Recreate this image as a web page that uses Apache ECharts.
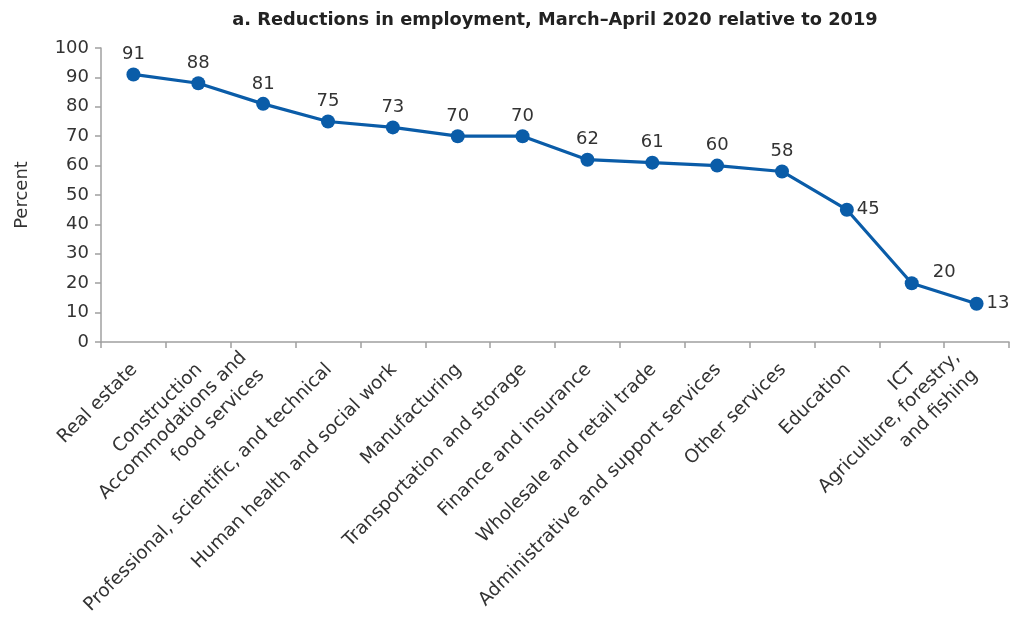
<!DOCTYPE html>
<html>
<head>
<meta charset="utf-8">
<script src="https://cdn.jsdelivr.net/npm/echarts@6/dist/echarts.min.js"></script>
<style>
  html, body { margin: 0; padding: 0; background: #fff; }
  #chart { width: 1017px; height: 620px; }
</style>
</head>
<body>
<div id="chart"></div>
<script>
const categories = [
  'Real estate',
  'Construction',
  'Accommodations and\nfood services',
  'Professional, scientific, and technical',
  'Human health and social work',
  'Manufacturing',
  'Transportation and storage',
  'Finance and insurance',
  'Wholesale and retail trade',
  'Administrative and support services',
  'Other services',
  'Education',
  'ICT',
  'Agriculture, forestry,\nand fishing'
]
const reductions = [91, 88, 81, 75, 73, 70, 70, 62, 61, 60, 58, 45, 20, 13]
// where each value label sits relative to its point
const labelPlaces = ['top', 'top', 'top', 'top', 'top', 'top', 'top', 'top', 'top', 'top', 'top', 'right', 'topRight', 'right']

const font = '"DejaVu Sans", "Open Sans", sans-serif'
const axisGray = '#a0a0a0'
const textColor = '#333'

// two-line labels get pushed a bit further down so they clear their neighbours
const axisData = categories.map(c => {
  if (c.indexOf('\n') < 0) return c
  return { value: c, textStyle: { lineHeight: 25, padding: [8, 15, 0, 0] } }
})

const seriesData = reductions.map((v, i) => {
  const place = labelPlaces[i]
  const item = { value: v }
  if (place === 'right') {
    item.label = { position: 'right', distance: 3 }
  } else if (place === 'topRight') {
    item.label = { position: 'right', distance: 14, offset: [0, -11] }
  }
  return item
})

const chart = echarts.init(document.getElementById('chart'))
chart.setOption({
  animation: false,
  textStyle: { fontFamily: font },
  title: {
    text: 'a. Reductions in employment, March\u2013April 2020 relative to 2019',
    left: 550,
    top: 6,
    textAlign: 'center',
    textStyle: { fontFamily: font, fontSize: 17.8, fontWeight: 'bold', color: '#222' }
  },
  grid: { left: 101, right: 8, top: 48, bottom: 278, containLabel: false },
  xAxis: {
    type: 'category',
    data: axisData,
    boundaryGap: true,
    axisLine: { lineStyle: { color: axisGray, width: 1.5 } },
    axisTick: { show: true, length: 6, lineStyle: { color: axisGray, width: 1.5 } },
    axisLabel: {
      interval: 0,
      rotate: 45,
      margin: 11,
      verticalAlign: 'top',
      padding: [0, 9, 0, 0],
      fontSize: 18.5,
      color: textColor,
      fontFamily: font,
      lineHeight: 21
    }
  },
  yAxis: {
    type: 'value',
    min: 0,
    max: 100,
    interval: 10,
    name: 'Percent',
    nameLocation: 'middle',
    nameGap: 70,
    nameTextStyle: { fontSize: 18, color: textColor, fontFamily: font },
    axisLine: { show: true, lineStyle: { color: axisGray, width: 1.5 } },
    axisTick: { show: true, length: 6, lineStyle: { color: axisGray, width: 1.5 } },
    axisLabel: { fontSize: 18, color: textColor, margin: 12, fontFamily: font },
    splitLine: { show: false }
  },
  series: [{
    type: 'line',
    data: seriesData,
    symbol: 'circle',
    symbolSize: 14,
    lineStyle: { color: '#0a5ca8', width: 3.2 },
    itemStyle: { color: '#0a5ca8' },
    label: {
      show: true,
      position: 'top',
      distance: 4,
      fontSize: 18,
      color: textColor,
      fontFamily: font
    }
  }]
})
</script>
</body>
</html>
